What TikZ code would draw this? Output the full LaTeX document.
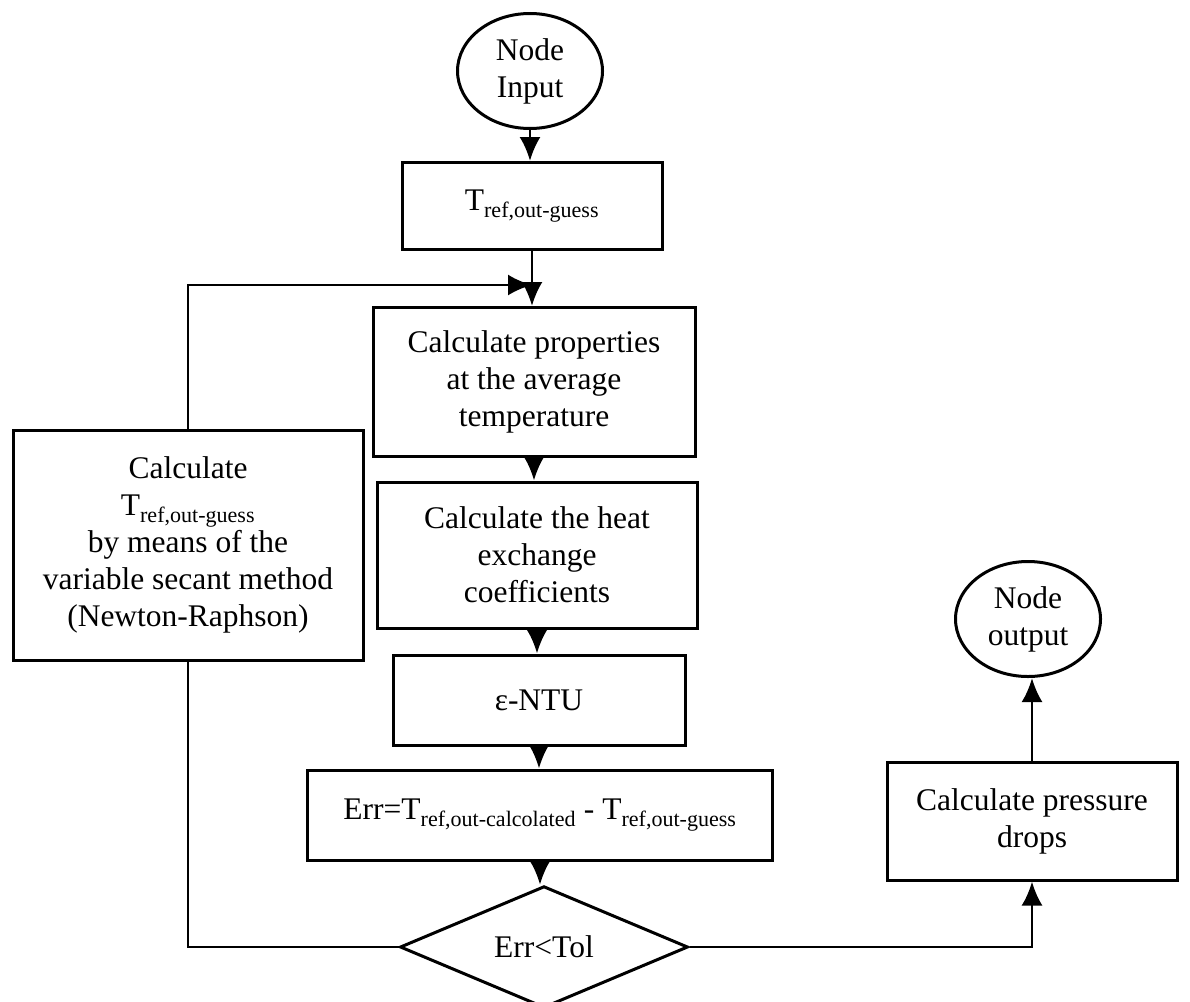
\documentclass[tikz,border=0pt]{standalone}
\usepackage{fontspec}
\setmainfont{Liberation Serif}
\usetikzlibrary{arrows.meta,shapes.geometric}
\tikzset{>={Latex[length=24pt,width=21pt]}}
\tikzset{
  every node/.style = {font=\fontsize{31.5}{37}\selectfont, align=center, inner sep=0pt},
  stepbox/.style = {draw, line width=3pt, rectangle},
  terminal/.style = {draw, line width=3pt, ellipse},
  decision/.style = {draw, line width=3pt, diamond},
  flow/.style = {->, line width=2.8pt}
}
\newcommand{\Tguess}{T\textsubscript{ref,out-guess}}

\begin{document}
\begin{tikzpicture}[x=1pt,y=-1pt]
  \useasboundingbox (0,0) rectangle (1190,1001);
  % main column
  \node[terminal, minimum width=145, minimum height=115] (input) at (530,71) {Node\\Input};
  \node[stepbox, minimum width=260, minimum height=87] (guess) at (532,206) {\Tguess};
  \node[stepbox, minimum width=322, minimum height=149] (props) at (534,382)
    {Calculate properties\\at the average\\temperature};
  \node[stepbox, minimum width=320, minimum height=146] (heat) at (537,555)
    {Calculate the heat\\exchange\\coefficients};
  \node[stepbox, minimum width=292, minimum height=90] (entu) at (539,700) {ε-NTU};
  \node[stepbox, minimum width=465, minimum height=90] (err) at (540,815)
    {Err=T\textsubscript{ref,out-calcolated} - \Tguess};
  \node[decision, minimum width=288, minimum height=118] (tol) at (544,947) {Err<Tol};
  % side boxes
  \node[stepbox, minimum width=350, minimum height=230] (secant) at (188,545)
    {Calculate\\\Tguess\\by means of the\\variable secant method\\(Newton-Raphson)};
  \node[stepbox, minimum width=290, minimum height=118] (press) at (1032,821)
    {Calculate pressure\\drops};
  \node[terminal, minimum width=145, minimum height=115] (output) at (1028,619) {Node\\output};
  \coordinate (join) at (532,285);

  \draw[flow] (input.south) -- (input.south |- guess.north);
  \draw[flow] (guess.south) -- (guess.south |- props.north);
  \draw[flow] (secant.north) |- (join);
  \draw[flow] (props.south) -- (props.south |- heat.north);
  \draw[flow] (heat.south) -- (heat.south |- entu.north);
  \draw[flow] (entu.south) -- (entu.south |- err.north);
  \draw[flow] (err.south) -- (err.south |- tol.north);
  \draw[line width=2.8pt] (tol.west) -| (secant.south);
  \draw[flow] (tol.east) -| (press.south);
  \draw[flow] (press.north) -- (press.north |- output.south);
\end{tikzpicture}
\end{document}
